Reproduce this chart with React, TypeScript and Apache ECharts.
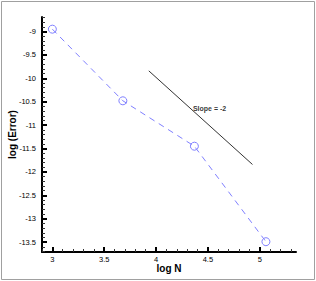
import React, { useEffect, useRef } from "react";
import * as echarts from "echarts";

const logN = [3, 3.68, 4.37, 5.06];
const logError = [-8.95, -10.48, -11.45, -13.49];
const slopeX = [3.93, 4.93];
const slopeY = [-9.84, -11.84];
const slopeLabel = "Slope = -2";
const slopeLabelPos = [4.356, -10.64];
const xMajorTicks = [3, 3.5, 4, 4.5, 5];
const yMajorTicks = [-9, -9.5, -10, -10.5, -11, -11.5, -12, -12.5, -13, -13.5];
const xRange = [2.9, 5.35];
const yRange = [-13.71, -8.69];

function minorTicks(lo: number, hi: number, majors: number[]): number[] {
  const out: number[] = [];
  const start = Math.ceil(lo * 10 - 1e-6);
  const end = Math.floor(hi * 10 + 1e-6);
  for (let i = start; i <= end; i++) {
    const v = i / 10;
    if (!majors.some((m) => Math.abs(m - v) < 1e-6)) out.push(v);
  }
  return out;
}

export default function App() {
  const ref = useRef<HTMLDivElement>(null);
  useEffect(() => {
    if (!ref.current) return;
    const chart = echarts.init(ref.current, null, { renderer: "svg" });
    const font = "'Liberation Sans', Arial, sans-serif";
    const xMinor = minorTicks(xRange[0], xRange[1], xMajorTicks);
    const yMinor = minorTicks(yRange[0], yRange[1], yMajorTicks);
    const lineColor = "#000";
    const blue = "#8080ff";
    chart.setOption({
      animation: false,
      grid: { left: 42, top: 17, right: 20, bottom: 29, containLabel: false, outerBoundsMode: "none" },
      graphic: [
        {
          type: "rect",
          shape: { x: 1.5, y: 1.5, width: 313, height: 278 },
          style: { fill: "none", stroke: "#a0a0a0", lineWidth: 1 },
          silent: true,
        },
      ],
      xAxis: [
        {
          type: "value",
          min: xRange[0],
          max: xRange[1],
          position: "bottom",
          name: "log N",
          nameLocation: "middle",
          nameGap: 11,
          nameMoveOverlap: false,
          nameTextStyle: { fontFamily: font, fontWeight: "bold", fontSize: 10, color: "#000" },
          axisLine: { show: true, onZero: false, lineStyle: { color: lineColor, width: 2 } },
          axisTick: { show: true, inside: true, length: 5, customValues: xMajorTicks, lineStyle: { color: lineColor, width: 2 } },
          axisLabel: { show: true, customValues: xMajorTicks, margin: 3, fontFamily: font, fontSize: 7.5, color: "#000", formatter: (v: number) => String(v) },
          splitLine: { show: false },
        },
        {
          type: "value",
          min: xRange[0],
          max: xRange[1],
          position: "bottom",
          axisLine: { show: false, onZero: false },
          axisTick: { show: true, inside: true, length: 3, customValues: xMinor, lineStyle: { color: "#333", width: 1 } },
          axisLabel: { show: false },
          splitLine: { show: false },
        },
      ],
      yAxis: [
        {
          type: "value",
          min: yRange[0],
          max: yRange[1],
          position: "left",
          name: "log (Error)",
          nameLocation: "middle",
          nameGap: 25,
          nameMoveOverlap: false,
          nameTextStyle: { fontFamily: font, fontWeight: "bold", fontSize: 10, color: "#000" },
          axisLine: { show: true, onZero: false, lineStyle: { color: lineColor, width: 2 } },
          axisTick: { show: true, inside: true, length: 5, customValues: yMajorTicks, lineStyle: { color: lineColor, width: 2 } },
          axisLabel: { show: true, customValues: yMajorTicks, margin: 6, fontFamily: font, fontSize: 7.5, color: "#000", formatter: (v: number) => String(v) },
          splitLine: { show: false },
        },
        {
          type: "value",
          min: yRange[0],
          max: yRange[1],
          position: "left",
          axisLine: { show: false, onZero: false },
          axisTick: { show: true, inside: true, length: 3, customValues: yMinor, lineStyle: { color: "#333", width: 1 } },
          axisLabel: { show: false },
          splitLine: { show: false },
        },
      ],
      series: [
        {
          type: "line",
          data: logN.map((x, i) => [x, logError[i]]),
          symbol: "circle",
          symbolSize: 8,
          lineStyle: { color: blue, width: 1, type: [6, 5] },
          itemStyle: { color: "rgba(255,255,255,0)", borderColor: blue, borderWidth: 1 },
        },
        {
          type: "line",
          data: slopeX.map((x, i) => [x, slopeY[i]]),
          symbol: "none",
          lineStyle: { color: "#333", width: 1 },
        },
        {
          type: "scatter",
          data: [slopeLabelPos],
          symbolSize: 0,
          label: {
            show: true,
            position: "right",
            distance: 0,
            formatter: slopeLabel,
            fontFamily: font,
            fontWeight: "bold",
            fontSize: 7,
            color: "#000",
          },
        },
      ],
    });
    return () => chart.dispose();
  }, []);
  return (
    <div
      ref={ref}
      style={{ position: "fixed", left: 0, top: 0, width: 316, height: 281, background: "#fff" }}
    />
  );
}
